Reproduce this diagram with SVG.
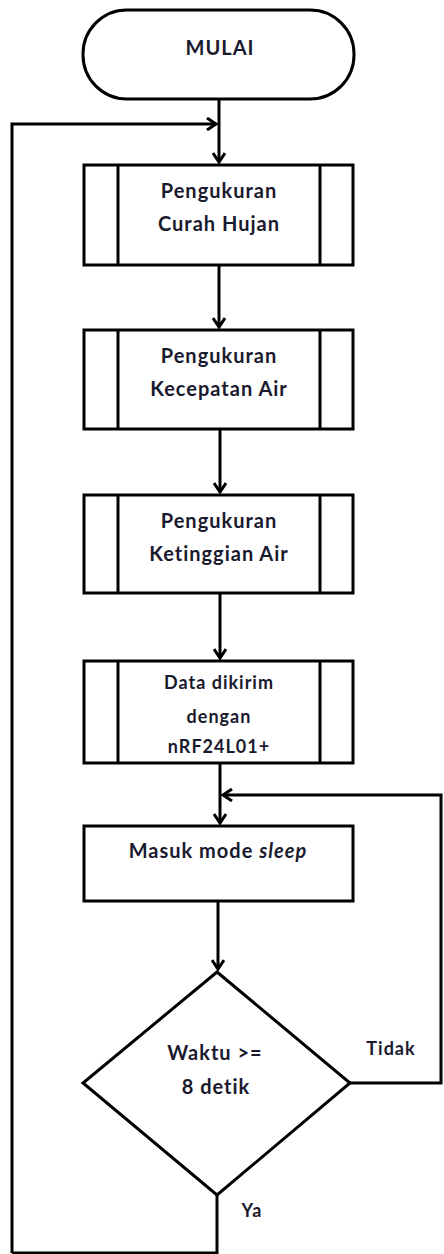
<svg xmlns="http://www.w3.org/2000/svg" width="444" height="1254" viewBox="0 0 444 1254">
<defs>
<marker id="arr" markerUnits="userSpaceOnUse" markerWidth="14" markerHeight="14" refX="11" refY="7" orient="auto">
<path d="M2,1 L11,7 L2,13" fill="none" stroke="#000" stroke-width="3"/>
</marker>
<style>
.s{fill:#fff;stroke:#000;stroke-width:3}
.l{fill:none;stroke:#000;stroke-width:3}
.t{font-family:Lato,"Liberation Sans",sans-serif;font-weight:bold;font-size:20px;letter-spacing:1px;fill:#1a1a2e;text-anchor:middle}
.sm{font-size:18px}
</style>
</defs>
<g id="connectors">
<path class="l" d="M219,99 V162" marker-end="url(#arr)"/>
<path class="l" d="M12,1253 V124 H216" marker-end="url(#arr)"/>
<path class="l" d="M219,265 V327" marker-end="url(#arr)"/>
<path class="l" d="M220,429 V492" marker-end="url(#arr)"/>
<path class="l" d="M220,593 V658" marker-end="url(#arr)"/>
<path class="l" d="M220,763 V823" marker-end="url(#arr)"/>
<path class="l" d="M350,1083 H441 V795 H223" marker-end="url(#arr)"/>
<path class="l" d="M218,901 V969" marker-end="url(#arr)"/>
<path class="l" d="M217,1195 V1253 H12"/>
</g>
<g id="start">
<rect class="s" x="83" y="10" width="271" height="89" rx="44" ry="44"/>
<text class="t" x="220" y="55">MULAI</text>
</g>
<g id="p1">
<rect class="s" x="84" y="165" width="269" height="100"/>
<path class="l" d="M118,165 V265 M320,165 V265"/>
<text class="t" x="219" y="198">Pengukuran</text>
<text class="t" x="219" y="231">Curah Hujan</text>
</g>
<g id="p2">
<rect class="s" x="84" y="330" width="269" height="99"/>
<path class="l" d="M118,330 V429 M320,330 V429"/>
<text class="t" x="219" y="363">Pengukuran</text>
<text class="t" x="219" y="396">Kecepatan Air</text>
</g>
<g id="p3">
<rect class="s" x="84" y="495" width="269" height="98"/>
<path class="l" d="M118,495 V593 M320,495 V593"/>
<text class="t" x="219" y="528">Pengukuran</text>
<text class="t" x="219" y="561">Ketinggian Air</text>
</g>
<g id="p4">
<rect class="s" x="84" y="661" width="269" height="102"/>
<path class="l" d="M118,661 V763 M320,661 V763"/>
<text class="t sm" x="219" y="689">Data dikirim</text>
<text class="t sm" x="219" y="723">dengan</text>
<text class="t sm" x="219" y="753">nRF24L01+</text>
</g>
<g id="sleep">
<rect class="s" x="84" y="826" width="269" height="75"/>
<text class="t" x="218" y="858">Masuk mode <tspan font-style="italic">sleep</tspan></text>
</g>
<g id="decision">
<path class="s" d="M217,972 L350,1083 L217,1195 L83,1083 Z"/>
<text class="t" x="215" y="1060">Waktu &gt;=</text>
<text class="t" x="216" y="1094">8 detik</text>
</g>
<g id="labels">
<text class="t sm" x="391" y="1055">Tidak</text>
<text class="t sm" x="252" y="1217">Ya</text>
</g>
</svg>
